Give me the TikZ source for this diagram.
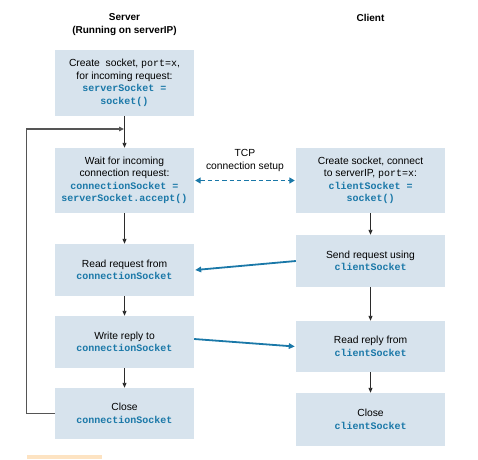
\documentclass[tikz,border=0pt]{standalone}
\usepackage{fontspec}
\setmainfont{Liberation Sans}
\setmonofont{Liberation Mono}
\usetikzlibrary{arrows.meta}
\definecolor{boxfill}{HTML}{D7E3ED}
\definecolor{codeblue}{HTML}{1A78A8}
\definecolor{arrowgray}{HTML}{2B2B2B}
\definecolor{loopgray}{HTML}{555555}
\definecolor{peach}{HTML}{FDE3C2}
\newcommand{\codetxt}[1]{{\fontsize{10}{12.5}\selectfont\ttfamily\bfseries\color{codeblue}#1}}
\newcommand{\monotxt}[1]{{\fontsize{10}{12.5}\selectfont\ttfamily #1}}
\begin{document}
\begin{tikzpicture}[x=1pt,y=-1pt,
  font=\fontsize{10.3}{12.5}\selectfont,
  sbox/.style={fill=boxfill, draw=none, align=center, inner sep=0pt,
    minimum width=139pt},
  cbox/.style={fill=boxfill, draw=none, align=center, inner sep=0pt,
    minimum width=149pt},
  title/.style={font=\fontsize{10}{13}\selectfont\bfseries, align=center, inner sep=0pt},
  flow/.style={draw=arrowgray, line width=0.9pt, -{Triangle[length=5pt,width=4pt]}},
  msg/.style={draw=codeblue, line width=1.8pt, -{Triangle[length=6pt,width=5.5pt]}},
  loopline/.style={draw=loopgray, line width=1.1pt, -{Triangle[length=5pt,width=4.5pt]}}
]
\useasboundingbox (0,0) rectangle (478,459);

\node[title] (ts) at (124.5,25) {Server\\(Running on serverIP)};
\node[title] (tc) at (370.5,18) {Client};

\node[sbox, minimum height=66pt] (s1) at (124.5,83)
  {Create\ \ socket, \monotxt{port=x},\\for incoming request:\\\codetxt{serverSocket =}\\\codetxt{socket()}};
\node[sbox, minimum height=65pt] (s2) at (124.5,180.5)
  {Wait for incoming\\connection request:\\\codetxt{connectionSocket =}\\\codetxt{serverSocket.accept()}};
\node[sbox, minimum height=52pt] (s3) at (124.5,270)
  {Read request from\\\codetxt{connectionSocket}};
\node[sbox, minimum height=52pt] (s4) at (124.5,342)
  {Write reply to\\\codetxt{connectionSocket}};
\node[sbox, minimum height=51pt] (s5) at (124.5,413.5)
  {Close\\\codetxt{connectionSocket}};

\node[cbox, minimum height=65pt] (c1) at (370.5,180.5)
  {Create socket, connect\\to serverIP, \monotxt{port=x}:\\\codetxt{clientSocket =}\\\codetxt{socket()}};
\node[cbox, minimum height=52pt] (c2) at (370.5,261)
  {Send request using\\\codetxt{clientSocket}};
\node[cbox, minimum height=51pt] (c3) at (370.5,346.5)
  {Read reply from\\\codetxt{clientSocket}};
\node[cbox, minimum height=53pt] (c4) at (370.5,419.5)
  {Close\\\codetxt{clientSocket}};

\node[align=center, inner sep=0pt] (tcp) at (245,160.5) {TCP\\connection setup};

\draw[flow] (s1) -- (s2);
\draw[flow] (s2) -- (s3);
\draw[flow] (s3) -- (s4);
\draw[flow] (s4) -- (s5);
\draw[flow] (c1) -- (c2);
\draw[flow] (c2) -- (c3);
\draw[flow] (c3) -- (c4);

\coordinate (join) at (124.5,129);
\draw[loopline] (s5.west) -- ++(-28,0) |- ([xshift=-0.5pt]join);

\draw[draw=codeblue, line width=1.9pt, dash pattern=on 4.5pt off 2.8pt,
  {Triangle[length=5.5pt,width=6pt]}-{Triangle[length=5.5pt,width=6pt]}]
  ([xshift=1pt]s2.east) -- ([xshift=-1pt]c1.west);

\draw[msg] (c2.west) -- ([xshift=1pt]s3.east);
\draw[msg] ([yshift=3pt]s4.east) -- ([xshift=-1pt]c3.west);

\fill[peach] (27,455) rectangle (102,458.5);
\end{tikzpicture}
\end{document}
